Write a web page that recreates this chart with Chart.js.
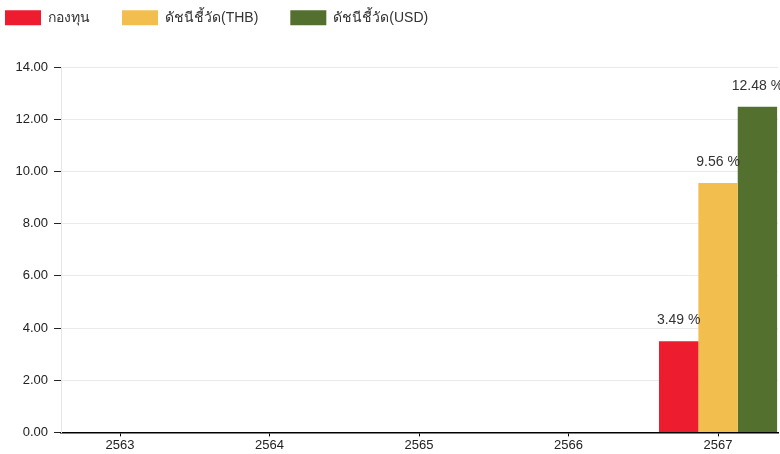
<!DOCTYPE html>
<html>
<head>
<meta charset="utf-8">
<script src="https://cdn.jsdelivr.net/npm/chart.js@4"></script>
<style>
  html, body { margin: 0; padding: 0; background: #fff; }
  #wrap { width: 780px; height: 454px; }
</style>
</head>
<body>
<div id="wrap"><canvas id="returnChart"></canvas></div>
<script>
// years (Thai Buddhist calendar)
var years = ['2563', '2564', '2565', '2566', '2567'];
var seriesNames = ['กองทุน', 'ดัชนีชี้วัด(THB)', 'ดัชนีชี้วัด(USD)'];
var fundValues = [0, 0, 0, 0, 3.49];
var thbValues = [0, 0, 0, 0, 9.56];
var usdValues = [0, 0, 0, 0, 12.48];
var yTicks = [0, 2, 4, 6, 8, 10, 12, 14];

var colors = ['#ed1c2e', '#f2bf4f', '#53702f'];
var fontFamily = '"Liberation Sans", Arial, sans-serif';

// draws "x.xx %" above each non-zero bar
var valueLabels = {
    id: 'valueLabels',
    afterDatasetsDraw: function(chart) {
        var ctx = chart.ctx;
        ctx.save();
        ctx.font = '14px ' + fontFamily;
        ctx.fillStyle = '#333';
        ctx.textAlign = 'center';
        ctx.textBaseline = 'middle';
        chart.data.datasets.forEach(function(ds, i) {
            var meta = chart.getDatasetMeta(i);
            meta.data.forEach(function(bar, j) {
                var v = ds.data[j];
                if (!v) return;
                ctx.fillText(v.toFixed(2) + ' %', bar.x, bar.y - 21);
            });
        });
        ctx.restore();
    }
};

// pull the legend up to the top-left corner
var legendShift = {
    id: 'legendShift',
    afterLayout: function(chart) {
        chart.legend.left = -27;
        chart.legend.top = -21.7;
    }
};

var ctx = document.getElementById('returnChart').getContext('2d');
var returnChart = new Chart(ctx, {
    type: 'bar',
    data: {
        labels: years,
        datasets: [
            { label: seriesNames[0], data: fundValues, backgroundColor: colors[0] },
            { label: seriesNames[1], data: thbValues, backgroundColor: colors[1] },
            { label: seriesNames[2], data: usdValues, backgroundColor: colors[2] }
        ]
    },
    options: {
        responsive: true,
        maintainAspectRatio: false,
        animation: false,
        layout: { padding: { left: 9.5, right: 2, top: 10, bottom: 0 } },
        datasets: {
            bar: { categoryPercentage: 0.79, barPercentage: 1.0 }
        },
        plugins: {
            legend: {
                position: 'top',
                align: 'start',
                labels: {
                    boxWidth: 36,
                    boxHeight: 15,
                    padding: 32,
                    color: '#333',
                    font: { family: fontFamily, size: 14 }
                }
            },
            tooltip: { enabled: false }
        },
        scales: {
            x: {
                type: 'linear',
                offset: false,
                min: 2563 - 0.395,
                max: 2567 + 0.401,
                afterBuildTicks: function(scale) {
                    scale.ticks = years.map(function(y) { return { value: +y }; });
                },
                ticks: {
                    autoSkip: false,
                    maxRotation: 0,
                    padding: 1,
                    color: '#222',
                    font: { family: fontFamily, size: 13 },
                    callback: function(value) { return String(value); }
                },
                grid: {
                    offset: false,
                    drawOnChartArea: false,
                    tickLength: 4,
                    tickColor: '#000'
                },
                border: { color: '#000', width: 1.5 }
            },
            y: {
                min: 0,
                max: 14,
                afterBuildTicks: function(scale) {
                    scale.ticks = yTicks.map(function(v) { return { value: v }; });
                },
                ticks: {
                    padding: 6,
                    color: '#222',
                    font: { family: fontFamily, size: 13 },
                    callback: function(value) { return value.toFixed(2); }
                },
                grid: {
                    color: '#ebebeb',
                    tickLength: 7,
                    tickColor: '#222'
                },
                border: { color: '#e6e6e6' }
            }
        }
    },
    plugins: [valueLabels, legendShift]
});
</script>
</body>
</html>
